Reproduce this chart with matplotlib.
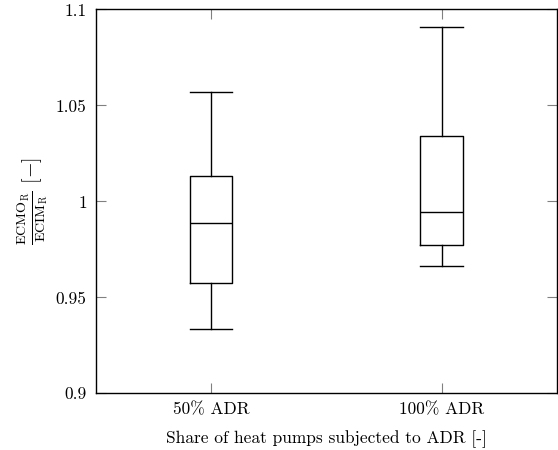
import matplotlib
matplotlib.use("Agg")
import matplotlib.pyplot as plt

plt.rcParams['font.family'] = 'cmr10'
plt.rcParams['mathtext.fontset'] = 'cm'
plt.rcParams['axes.formatter.use_mathtext'] = True
plt.rcParams['axes.unicode_minus'] = False

labels = ['50% ADR', '100% ADR']
whislo = [0.9333, 0.9663]
q1 = [0.9574, 0.9772]
med = [0.9885, 0.9946]
q3 = [1.0132, 1.0340]
whishi = [1.0568, 1.0909]

yticks = [0.9, 0.95, 1.0, 1.05, 1.1]
yticklabels = ['0.9', '0.95', '1', '1.05', '1.1']

stats = []
for i in range(len(labels)):
    stats.append({'label': labels[i], 'whislo': whislo[i], 'q1': q1[i],
                  'med': med[i], 'q3': q3[i], 'whishi': whishi[i]})

fig = plt.figure(figsize=(5.58, 4.5), dpi=100)
ax = fig.add_axes([0.1715, 0.126, 0.8265, 0.853])

line = dict(color='black', linewidth=1.0)
ax.bxp(stats, positions=[1, 2], widths=0.186, capwidths=0.186,
       showfliers=False, boxprops=line, whiskerprops=line,
       capprops=line, medianprops=line)

ax.set_xlim(0.5, 2.5)
ax.set_ylim(0.9, 1.1)
ax.set_yticks(yticks)
ax.set_yticklabels(yticklabels)
ax.set_xticks([1, 2])
ax.set_xticklabels(labels)

ax.tick_params(direction='in', length=7, width=0.8, color='#808080',
               top=True, right=True, labelsize=12.5, pad=6.5)
for s in ax.spines.values():
    s.set_linewidth(1.0)

ax.set_xlabel('Share of heat pumps subjected to ADR [-]', fontsize=12.5, labelpad=9)
ax.set_ylabel(r'$\frac{\mathrm{ECMO_R}}{\mathrm{ECIM_R}}$ $[-]$', fontsize=14.5, labelpad=4)

fig.savefig('out.png', dpi=100)
